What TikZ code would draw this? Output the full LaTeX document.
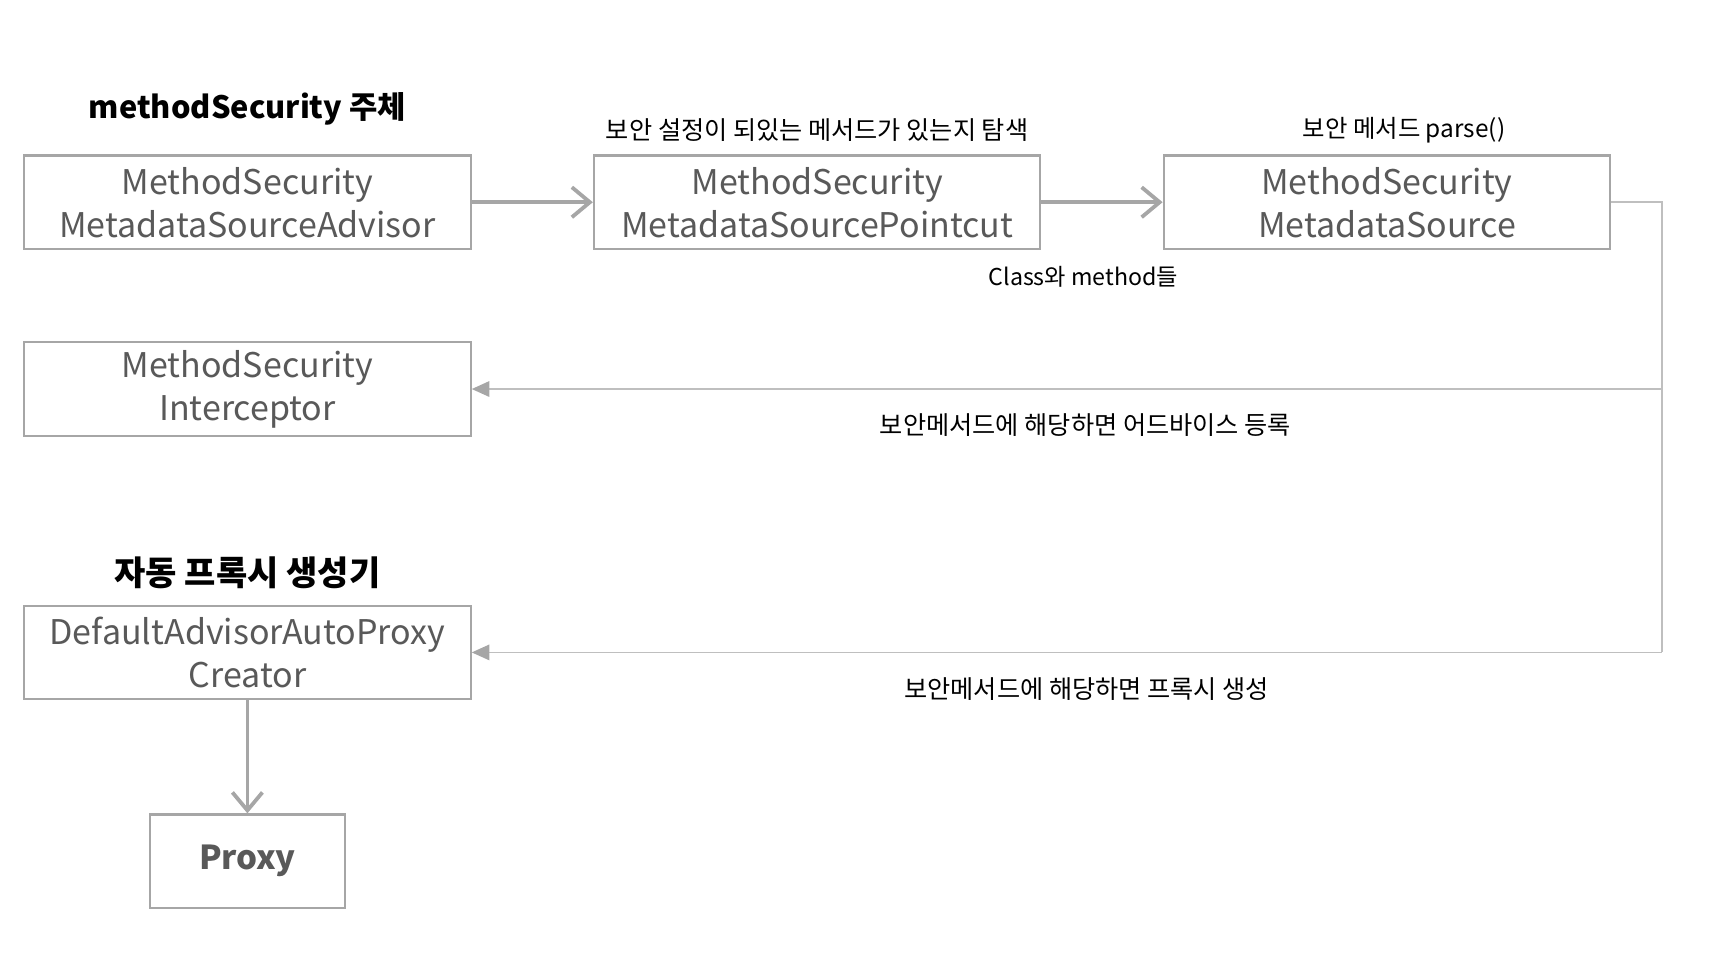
\documentclass[tikz,border=0pt]{standalone}
\usepackage{fontspec}
\setmainfont{Noto Sans CJK KR}
\usetikzlibrary{arrows.meta}
\definecolor{boxline}{HTML}{A6A6A6}
\definecolor{boxtext}{HTML}{595959}
\definecolor{thinline}{HTML}{BFBFBF}
\definecolor{tipgray}{HTML}{A6A6A6}
\tikzset{
  classbox/.style={draw=boxline, line width=1.1pt, fill=white, minimum width=223.2pt, minimum height=46.8pt,
    inner sep=0pt, align=center, text=boxtext, font=\fontsize{17}{21.5}\selectfont},
  proxybox/.style={classbox, minimum width=97.5pt, font=\fontsize{16.5}{21.5}\selectfont\bfseries},
  title/.style={font=\fontsize{15.4}{18}\selectfont\bfseries, text=black, inner sep=0pt},
  lbl/.style={font=\fontsize{12.6}{15}\selectfont, text=black, inner sep=0pt},
  flow/.style={draw=boxline, line width=1.9pt, -{Straight Barb[length=9pt, width=15pt, line width=1.9pt]}},
  link/.style={draw=thinline, line width=0.9pt},
  linkarrow/.style={link, -{Triangle[length=8.8pt, width=7.7pt, fill=tipgray, color=tipgray]}}
}
\begin{document}
\begin{tikzpicture}[x=0.551pt, y=-0.551pt]
\useasboundingbox (0,0) rectangle (1568,884);
% titles
\node[title] (t1) at (224.5,99) {methodSecurity 주체};
\node[title, font=\fontsize{17}{20}\selectfont\bfseries] (t2) at (224.5,520) {자동 프록시 생성기};
% boxes
\node[classbox] (b1) at (224.5,183.5) {MethodSecurity\\MetadataSourceAdvisor};
\node[classbox] (b2) at (741.5,183.5) {MethodSecurity\\MetadataSourcePointcut};
\node[classbox] (b3) at (1258.5,183.5) {MethodSecurity\\MetadataSource};
\node[classbox] (b4) at (224.5,353) {MethodSecurity\\Interceptor};
\node[classbox] (b5) at (224.5,592) {DefaultAdvisorAutoProxy\\Creator};
\node[proxybox] (b6) at (224.5,781.5) {Proxy};
% labels
\node[lbl] (l1) at (741.5,118) {보안 설정이 되있는 메서드가 있는지 탐색};
\node[lbl, font=\fontsize{12.2}{15}\selectfont] (l2) at (1274,118) {보안 메서드 parse()};
\node[lbl, font=\fontsize{11.6}{14}\selectfont] (l3) at (983,251) {Class와 method들};
\node[lbl] (l4) at (985,386) {보안메서드에 해당하면 어드바이스 등록};
\node[lbl] (l5) at (986,625) {보안메서드에 해당하면 프록시 생성};
% connector corners
\coordinate (c1) at (1508,183.5);
\coordinate (c2) at (1508,353);
\coordinate (c3) at (1508,592);
% connectors
\draw[flow] (b1.east) -- (b2.west);
\draw[flow] (b2.east) -- (b3.west);
\draw[flow] (b5.south) -- (b6.north);
\draw[link] (b3.east) -- (c1) -- (c3);
\draw[linkarrow] (c2) -- (b4.east);
\draw[linkarrow] (c3) -- (b5.east);
\end{tikzpicture}
\end{document}
